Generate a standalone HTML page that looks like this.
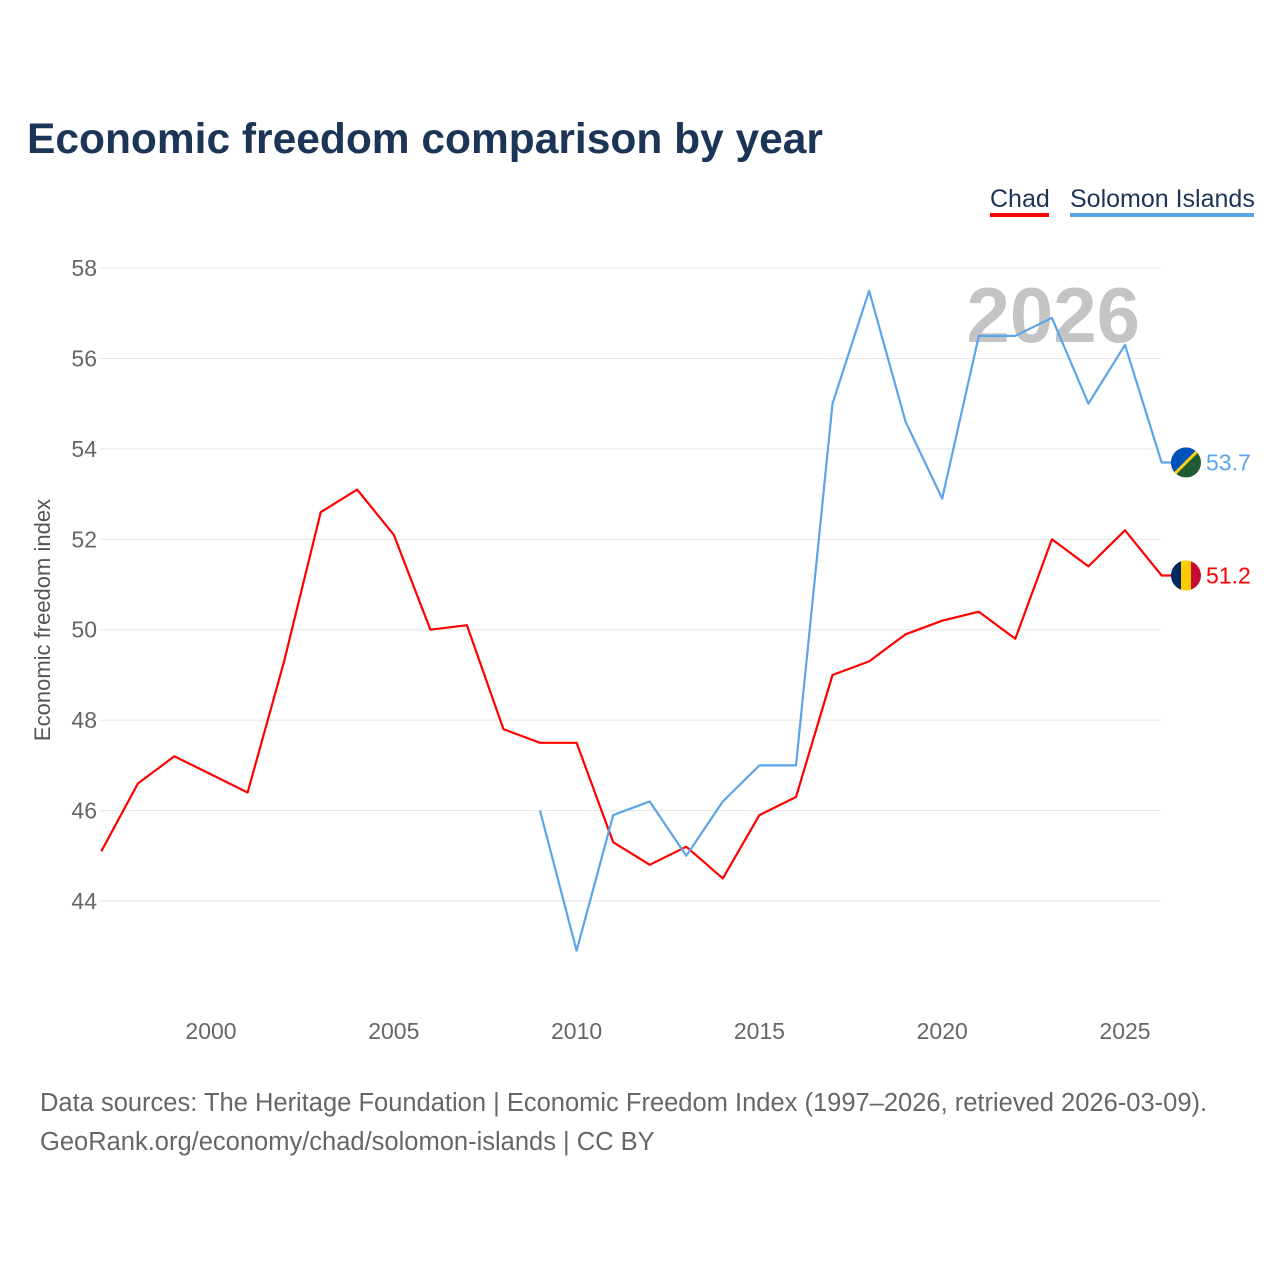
<!DOCTYPE html>
<html><head><meta charset="utf-8">
<style>
body{margin:0;background:#fff;font-family:"Liberation Sans",sans-serif;}
#wrap{position:relative;width:1280px;height:1280px;overflow:hidden;}
</style></head>
<body>
<div id="wrap">
<svg id="chart" width="1280" height="1280">
<text x="27" y="153" font-size="42.5" font-weight="bold" fill="#1c3557">Economic freedom comparison by year</text>
<g>
<text x="990" y="207" font-size="25" fill="#1c3557">Chad</text>
<rect x="990" y="213" width="59" height="4" fill="#ff0000"></rect>
<text x="1070" y="207" font-size="25" fill="#1c3557">Solomon Islands</text>
<rect x="1070" y="213" width="184" height="4" fill="#5ba4ea"></rect>
</g>
<text x="1140" y="342" font-size="78" font-weight="bold" fill="#c4c4c4" text-anchor="end">2026</text>
<g id="grid"></g>
<g id="xaxis"></g>
<text transform="translate(50,620) rotate(-90)" font-size="22" fill="#555" text-anchor="middle">Economic freedom index</text>
<g id="series"></g>
<text x="40" y="1111" font-size="25.5" fill="#666">Data sources: The Heritage Foundation | Economic Freedom Index (1997–2026, retrieved 2026-03-09).</text>
<text x="40" y="1150" font-size="25.5" fill="#666">GeoRank.org/economy/chad/solomon-islands | CC BY</text>
</svg>
</div>
<script>
const years=[1997,1998,1999,2000,2001,2002,2003,2004,2005,2006,2007,2008,2009,2010,2011,2012,2013,2014,2015,2016,2017,2018,2019,2020,2021,2022,2023,2024,2025,2026];
const chad=[45.1,46.6,47.2,46.8,46.4,49.3,52.6,53.1,52.1,50.0,50.1,47.8,47.5,47.5,45.3,44.8,45.2,44.5,45.9,46.3,49.0,49.3,49.9,50.2,50.4,49.8,52.0,51.4,52.2,51.2];
const solomon=[null,null,null,null,null,null,null,null,null,null,null,null,46.0,42.9,45.9,46.2,45.0,46.2,47.0,47.0,55.0,57.5,54.6,52.9,56.5,56.5,56.9,55.0,56.3,53.7];
const yTicks=[44,46,48,50,52,54,56,58];
const xTicks=[2000,2005,2010,2015,2020,2025];
const NS="http://www.w3.org/2000/svg";
const x=v=>211+(v-2000)*36.56;
const y=v=>901-(v-44)*45.21;
function mk(tag,attrs,parent){const e=document.createElementNS(NS,tag);for(const k in attrs)e.setAttribute(k,attrs[k]);parent.appendChild(e);return e;}
const grid=document.getElementById('grid');
yTicks.forEach(t=>{
 const l=mk('line',{x1:100,x2:1161,y1:y(t),y2:y(t),stroke:'#e6e6e6','stroke-width':1},grid);
 
 
 const tx=mk('text',{x:97,y:y(t)+8,'font-size':23,fill:'#666','text-anchor':'end'},grid);
 tx.textContent=t;
 
 
});
const xa=document.getElementById('xaxis');
xTicks.forEach(t=>{
 const tx=mk('text',{x:x(t),y:1039,'font-size':23,fill:'#666','text-anchor':'middle'},xa);
 tx.textContent=t;
 
 
});
const sg=document.getElementById('series');
function draw(vals,color,name){
 let d='';let last=null;
 vals.forEach((v,i)=>{if(v==null)return;d+=(d?'L':'M')+x(years[i]).toFixed(1)+','+y(v).toFixed(1);last=v;});
 d+='L'+(x(years[years.length-1])+12)+','+y(last).toFixed(1);
 const p=mk('path',{d:d,fill:'none',stroke:color,'stroke-width':2.2,'stroke-linejoin':'round'},sg);
 
 
 return last;
}
const lc=draw(chad,'#ff0000','chad');
const ls=draw(solomon,'#5ba4ea','solomon-islands');
const fx=1186;
let g=mk('g',{},sg);


mk('clipPath',{id:'c1'},g).appendChild(document.createElementNS(NS,'circle'));
const c1=g.querySelector('circle');c1.setAttribute('cx',fx);c1.setAttribute('cy',y(lc));c1.setAttribute('r',15);
const gc=mk('g',{'clip-path':'url(#c1)'},g);
mk('rect',{x:fx-15,y:y(lc)-15,width:10,height:30,fill:'#002664'},gc);
mk('rect',{x:fx-5,y:y(lc)-15,width:10,height:30,fill:'#fecb00'},gc);
mk('rect',{x:fx+5,y:y(lc)-15,width:10,height:30,fill:'#c60c30'},gc);
let t1=mk('text',{x:1206,y:y(lc)+8,'font-size':23,fill:'#ff0000'},sg);t1.textContent=lc.toFixed(1);


let g2=mk('g',{},sg);


const cy=y(ls);
mk('clipPath',{id:'c2'},g2).appendChild(document.createElementNS(NS,'circle'));
const c2=g2.querySelectorAll('circle')[0];c2.setAttribute('cx',fx);c2.setAttribute('cy',cy);c2.setAttribute('r',15);
const gs=mk('g',{'clip-path':'url(#c2)'},g2);
mk('rect',{x:fx-15,y:cy-15,width:30,height:30,fill:'#215b33'},gs);
mk('polygon',{points:`${fx-15},${cy-15} ${fx+15},${cy-15} ${fx-15},${cy+15}`,fill:'#0051ba'},gs);
mk('line',{x1:fx-15,y1:cy+15,x2:fx+15,y2:cy-15,stroke:'#fcd116','stroke-width':3},gs);
let t2=mk('text',{x:1206,y:cy+8,'font-size':23,fill:'#5ba4ea'},sg);t2.textContent=ls.toFixed(1);


</script>
</body></html>
